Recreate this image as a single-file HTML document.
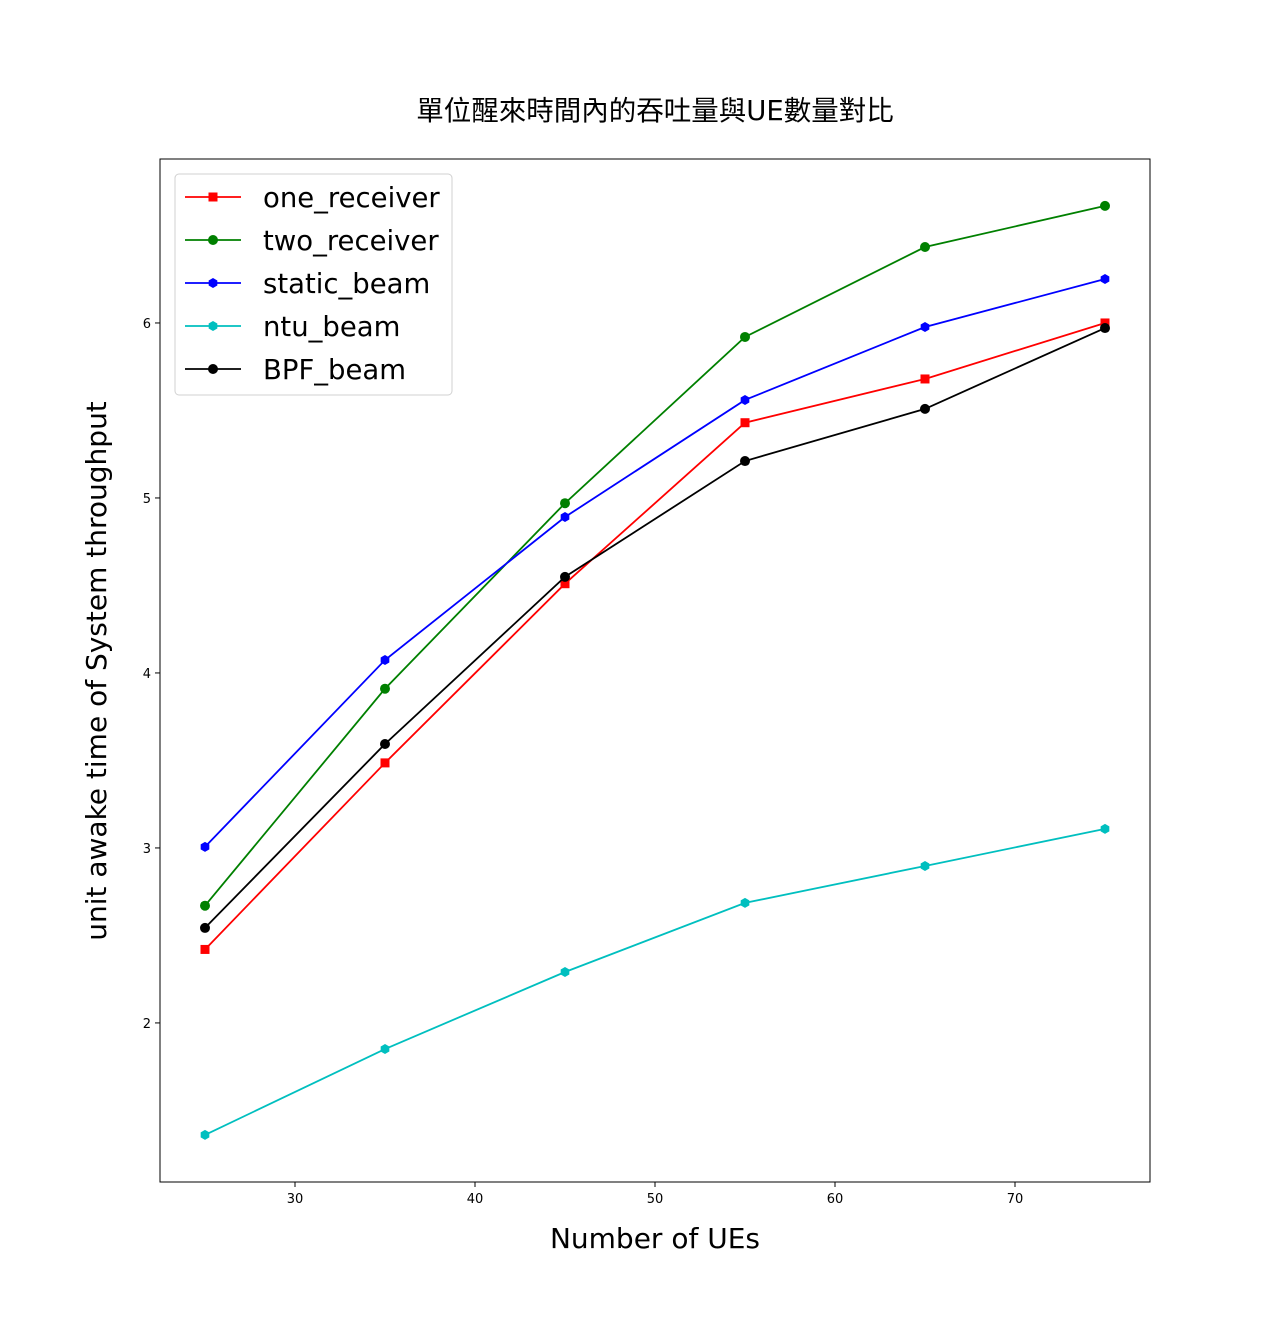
<!DOCTYPE html>
<html><head><meta charset="utf-8">
<style>
html,body{margin:0;padding:0;background:#fff;}
svg{display:block;font-family:"DejaVu Sans","Liberation Sans","Noto Sans CJK TC",sans-serif;}
</style></head>
<body>
<svg id="chart" width="1278" height="1328" viewBox="0 0 1278 1328" xmlns="http://www.w3.org/2000/svg">
<rect width="1278" height="1328" fill="#fff"/>
<text x="655" y="120" font-size="27.5" text-anchor="middle" font-family="'DejaVu Sans','Noto Sans CJK TC',sans-serif">單位醒來時間內的吞吐量與UE數量對比</text>
<text x="655" y="1248" font-size="28" text-anchor="middle">Number of UEs</text>
<text transform="translate(106,671) rotate(-90)" font-size="28" text-anchor="middle">unit awake time of System throughput</text>
<g id="plot"></g>
</svg>
<script>
const categories = [25, 35, 45, 55, 65, 75];
const oneReceiver = [2.42, 3.486, 4.51, 5.43, 5.68, 6.0];
const twoReceiver = [2.67, 3.91, 4.97, 5.92, 6.434, 6.669];
const staticBeam = [3.006, 4.074, 4.891, 5.56, 5.977, 6.251];
const ntuBeam = [1.36, 1.851, 2.291, 2.686, 2.897, 3.109];
const bpfBeam = [2.543, 3.594, 4.549, 5.211, 5.509, 5.971];
const xTicks = [30, 40, 50, 60, 70];
const yTicks = [2, 3, 4, 5, 6];
const seriesNames = ["one_receiver", "two_receiver", "static_beam", "ntu_beam", "BPF_beam"];

const NS = "http://www.w3.org/2000/svg";
const L = 160, R = 1150, T = 159, B = 1182;
const xMin = 22.5, xMax = 77.5, yMin = 1.091, yMax = 6.937;
function xs(v){ return L + (v - xMin) / (xMax - xMin) * (R - L); }
function ys(v){ return B - (v - yMin) / (yMax - yMin) * (B - T); }
const g = document.getElementById('plot');
function mk(tag, attrs, parent){
  const e = document.createElementNS(NS, tag);
  for (const k in attrs) e.setAttribute(k, attrs[k]);
  (parent || g).appendChild(e);
  return e;
}
function marker(shape, cx, cy, color, parent){
  let e;
  if (shape === 's') e = mk('rect', {x: cx-4.5, y: cy-4.5, width: 9, height: 9, fill: color}, parent);
  else if (shape === 'h') {
    const pts = [];
    for (let i = 0; i < 6; i++){ const a = Math.PI/6 + i*Math.PI/3; pts.push((cx+5*Math.cos(a)).toFixed(2)+','+(cy+5*Math.sin(a)).toFixed(2)); }
    e = mk('polygon', {points: pts.join(' '), fill: color}, parent);
  } else e = mk('circle', {cx: cx, cy: cy, r: 5, fill: color}, parent);
  return e;
}

const frame = mk('rect', {x: L, y: T, width: R-L, height: B-T, fill: 'none', stroke: '#000', 'stroke-width': 1});



xTicks.forEach(t => {
  const x = xs(t);
  const tk = mk('line', {x1: x, x2: x, y1: B, y2: B+5, stroke: '#000'});
  
  
  const lb = mk('text', {x: x, y: B+21, 'font-size': 13, 'text-anchor': 'middle'});
  lb.textContent = t;
  
  
});
yTicks.forEach(t => {
  const y = ys(t);
  const tk = mk('line', {x1: L-5, x2: L, y1: y, y2: y, stroke: '#000'});
  
  
  const lb = mk('text', {x: L-9, y: y+5, 'font-size': 13, 'text-anchor': 'end'});
  lb.textContent = t;
  
  
});

const allSeries = [oneReceiver, twoReceiver, staticBeam, ntuBeam, bpfBeam];
const colors = ['#ff0000', '#008000', '#0000ff', '#00bfbf', '#000000'];
const shapes = ['s', 'o', 'h', 'h', 'o'];
allSeries.forEach((vals, si) => {
  const sg = mk('g', {});
  
  
  const pts = vals.map((v, i) => xs(categories[i]).toFixed(2) + ',' + ys(v).toFixed(2)).join(' ');
  const pl = mk('polyline', {points: pts, fill: 'none', stroke: colors[si], 'stroke-width': 1.8}, sg);
  
  
  vals.forEach((v, i) => {
    const m = marker(shapes[si], xs(categories[i]), ys(v), colors[si], sg);
    
    
  });
});

const lg = mk('g', {});


mk('rect', {x: 175, y: 174, width: 277, height: 221, rx: 4, fill: '#fff', stroke: '#d0d0d0', 'stroke-width': 1}, lg);
seriesNames.forEach((n, i) => {
  const y = 197 + i * 43;
  const eg = mk('g', {}, lg);
  
  
  mk('line', {x1: 185, x2: 241, y1: y, y2: y, stroke: colors[i], 'stroke-width': 1.8}, eg);
  marker(shapes[i], 213, y, colors[i], eg);
  const t = mk('text', {x: 263, y: y + 10, 'font-size': 27.5}, eg);
  t.textContent = n;
});
</script>
</body></html>
